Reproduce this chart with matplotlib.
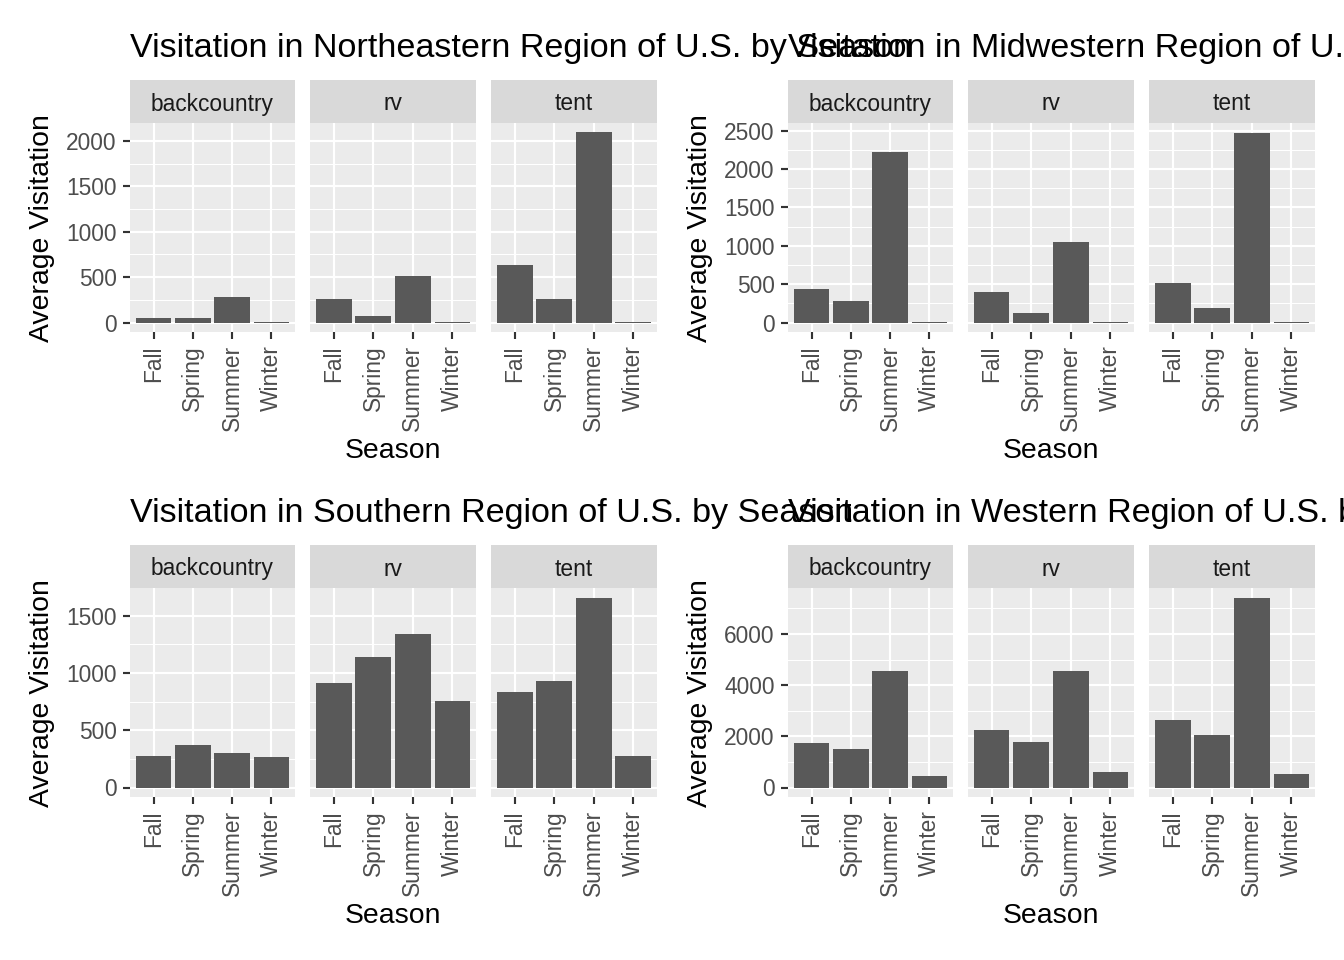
import numpy as np
import matplotlib
matplotlib.use("Agg")
import matplotlib.pyplot as plt
from matplotlib.ticker import MultipleLocator

plt.rcParams['font.family'] = ['Liberation Sans', 'DejaVu Sans']

SEASONS = ["Fall", "Spring", "Summer", "Winter"]
CAMP_TYPES = ["backcountry", "rv", "tent"]

# average visitation per season, one list per camping type
northeast_backcountry = [55, 55, 283, 7]
northeast_rv = [260, 73, 514, 7]
northeast_tent = [635, 260, 2095, 7]

midwest_backcountry = [437, 285, 2215, 9]
midwest_rv = [398, 125, 1047, 2]
midwest_tent = [515, 190, 2474, 9]

south_backcountry = [277, 373, 303, 268]
south_rv = [915, 1142, 1343, 757]
south_tent = [836, 932, 1657, 277]

west_backcountry = [1748, 1513, 4565, 457]
west_rv = [2257, 1787, 4565, 613]
west_tent = [2648, 2061, 7422, 535]

REGIONS = [
    ("Northeastern", [northeast_backcountry, northeast_rv, northeast_tent], 500),
    ("Midwestern", [midwest_backcountry, midwest_rv, midwest_tent], 500),
    ("Southern", [south_backcountry, south_rv, south_tent], 500),
    ("Western", [west_backcountry, west_rv, west_tent], 2000),
]

W, H = 1344, 960
BG = "#EBEBEB"
STRIP = "#D9D9D9"
BAR = "#595959"
FS = 0.97  # font scale

fig = plt.figure(figsize=(7, 5), dpi=192)


def px(x0, y0, x1, y1):
    # pixel box (top-left origin) -> figure fraction rect
    return [x0 / W, 1 - y1 / H, (x1 - x0) / W, (y1 - y0) / H]


def draw_region(name, series, step, left, top):
    panel_xs = [(left, left + 165), (left + 180, left + 346), (left + 361, left + 527)]
    strip_top, strip_bot, panel_bot = top + 80, top + 123, top + 332
    ymax = max(max(s) for s in series)
    lo, hi = -0.05 * ymax, 1.05 * ymax
    x = np.arange(len(SEASONS))

    for i, (x0, x1) in enumerate(panel_xs):
        ax = fig.add_axes(px(x0, strip_bot, x1, panel_bot))
        ax.set_facecolor(BG)
        ax.bar(x, series[i], width=0.9, color=BAR, zorder=3)
        ax.set_xlim(-0.6, len(SEASONS) - 0.4)
        ax.set_ylim(lo, hi)
        ax.yaxis.set_major_locator(MultipleLocator(step))
        ax.yaxis.set_minor_locator(MultipleLocator(step / 2))
        ax.set_xticks(x)
        ax.set_xticklabels(SEASONS, rotation=90, fontsize=8.8 * FS, color="#4D4D4D")
        ax.grid(which="major", color="white", linewidth=0.8, zorder=1)
        ax.grid(which="minor", axis="y", color="white", linewidth=0.4, zorder=1)
        for sp in ax.spines.values():
            sp.set_visible(False)
        ax.tick_params(axis="both", which="major", length=2.75, width=0.8,
                       color="#333333", pad=2.2)
        ax.tick_params(axis="both", which="minor", length=0)
        if i == 0:
            ax.tick_params(axis="y", labelsize=8.8 * FS, labelcolor="#4D4D4D")
        else:
            ax.tick_params(axis="y", left=False, labelleft=False)

        sax = fig.add_axes(px(x0, strip_top, x1, strip_bot))
        sax.set_facecolor(STRIP)
        sax.set_xticks([])
        sax.set_yticks([])
        for sp in sax.spines.values():
            sp.set_visible(False)
        sax.text(0.5, 0.5, CAMP_TYPES[i], ha="center", va="center_baseline",
                 fontsize=8.8 * FS, color="#1A1A1A", transform=sax.transAxes)

    fig.text(left / W, 1 - (top + 57) / H,
             f"Visitation in {name} Region of U.S. by Season",
             ha="left", va="baseline", fontsize=13.2 * FS, color="black")
    fig.text((left - 88) / W, 1 - (top + 228) / H, "Average Visitation",
             rotation=90, ha="center", va="center", fontsize=11 * FS)
    fig.text((left + 263) / W, 1 - (top + 451) / H, "Season",
             ha="center", va="center", fontsize=11 * FS)


positions = [(130, 0), (788, 0), (130, 465), (788, 465)]
for (name, series, step), (left, top) in zip(REGIONS, positions):
    draw_region(name, series, step, left, top)

fig.savefig("out.png", dpi=192, facecolor="white")
